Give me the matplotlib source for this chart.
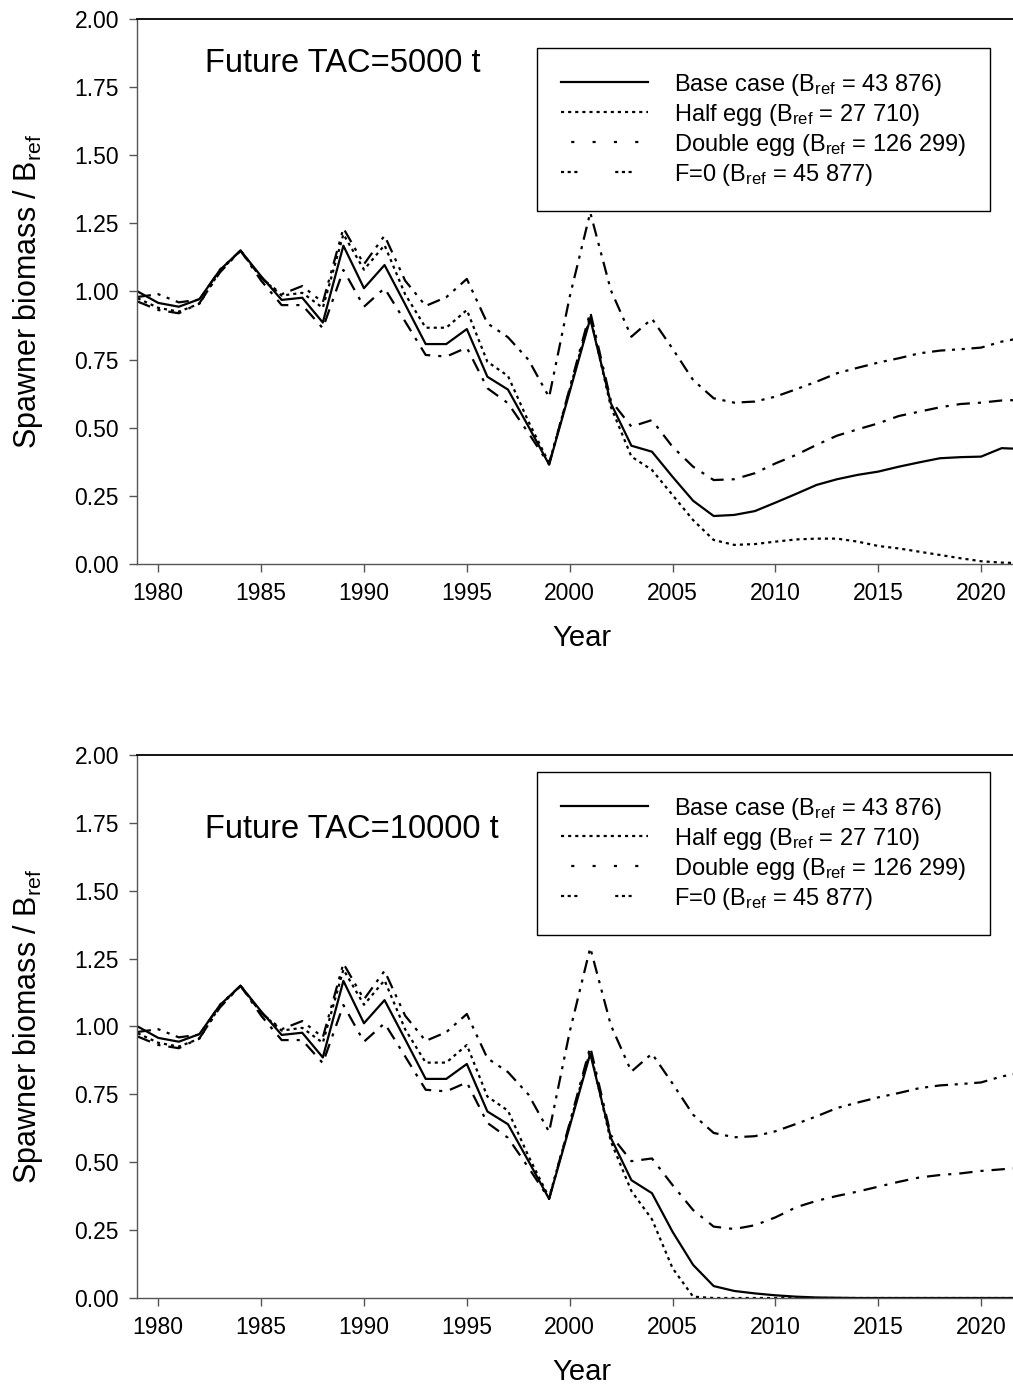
import numpy as np
import matplotlib
matplotlib.use('Agg')
import matplotlib.pyplot as plt
from matplotlib.lines import Line2D

plt.rcParams['font.family'] = ['Liberation Sans', 'DejaVu Sans']
plt.rcParams['mathtext.fontset'] = 'custom'
plt.rcParams['mathtext.rm'] = 'Liberation Sans'
plt.rcParams['mathtext.it'] = 'Liberation Sans:italic'

years = np.arange(1979, 2023)

# spawner biomass relative to B_ref, future TAC = 5000 t
base_5000 = [1.000, 0.958, 0.944, 0.972, 1.079, 1.150, 1.056, 0.969, 0.977, 0.886,
             1.168, 1.012, 1.097, 0.953, 0.807, 0.807, 0.862, 0.687, 0.640, 0.504,
             0.365, 0.632, 0.900, 0.590, 0.434, 0.412, 0.320, 0.232, 0.176, 0.180,
             0.194, 0.225, 0.257, 0.290, 0.311, 0.327, 0.339, 0.357, 0.373, 0.388,
             0.392, 0.394, 0.425, 0.422]
half_5000 = [0.975, 0.940, 0.926, 0.955, 1.075, 1.150, 1.050, 0.985, 0.995, 0.940,
             1.210, 1.080, 1.170, 0.990, 0.867, 0.867, 0.932, 0.742, 0.690, 0.522,
             0.370, 0.640, 0.910, 0.577, 0.394, 0.345, 0.253, 0.161, 0.088, 0.070,
             0.073, 0.082, 0.090, 0.093, 0.093, 0.082, 0.066, 0.057, 0.045, 0.033,
             0.021, 0.010, 0.005, 0.003]
double_5000 = [0.963, 0.932, 0.920, 0.957, 1.070, 1.150, 1.040, 0.950, 0.950, 0.865,
               1.079, 0.944, 1.012, 0.890, 0.767, 0.761, 0.794, 0.645, 0.590, 0.480,
               0.365, 0.645, 0.925, 0.600, 0.504, 0.528, 0.430, 0.357, 0.308, 0.311,
               0.333, 0.369, 0.400, 0.437, 0.471, 0.494, 0.516, 0.543, 0.559, 0.575,
               0.587, 0.592, 0.600, 0.602]

# future TAC = 10000 t
base_10000 = [1.000, 0.958, 0.944, 0.972, 1.079, 1.150, 1.056, 0.969, 0.977, 0.886,
              1.168, 1.012, 1.097, 0.953, 0.807, 0.807, 0.862, 0.687, 0.640, 0.504,
              0.365, 0.632, 0.900, 0.590, 0.434, 0.386, 0.244, 0.122, 0.044, 0.026,
              0.017, 0.010, 0.005, 0.002, 0.001, 0.000, 0.000, 0.000, 0.000, 0.000,
              0.000, 0.000, 0.000, 0.000]
half_10000 = [0.975, 0.940, 0.926, 0.955, 1.075, 1.150, 1.050, 0.985, 0.995, 0.940,
              1.210, 1.080, 1.170, 0.990, 0.867, 0.867, 0.932, 0.742, 0.690, 0.522,
              0.370, 0.640, 0.910, 0.577, 0.394, 0.290, 0.110, 0.005, 0.000, 0.000,
              0.000, 0.000, 0.000, 0.000, 0.000, 0.000, 0.000, 0.000, 0.000, 0.000,
              0.000, 0.000, 0.000, 0.000]
double_10000 = [0.963, 0.932, 0.920, 0.957, 1.070, 1.150, 1.040, 0.950, 0.950, 0.865,
                1.079, 0.944, 1.012, 0.890, 0.767, 0.761, 0.794, 0.645, 0.590, 0.480,
                0.365, 0.645, 0.925, 0.600, 0.504, 0.514, 0.416, 0.324, 0.263, 0.254,
                0.268, 0.297, 0.334, 0.358, 0.376, 0.392, 0.410, 0.428, 0.444, 0.453,
                0.459, 0.468, 0.474, 0.480]

# no fishing: same in both panels
f0 = [0.980, 0.990, 0.960, 0.970, 1.080, 1.150, 1.050, 0.990, 1.020, 0.960,
      1.232, 1.100, 1.205, 1.040, 0.947, 0.979, 1.046, 0.883, 0.832, 0.749,
      0.612, 0.980, 1.290, 1.005, 0.834, 0.900, 0.790, 0.675, 0.608, 0.592,
      0.596, 0.614, 0.641, 0.669, 0.700, 0.720, 0.739, 0.755, 0.773, 0.783,
      0.788, 0.794, 0.816, 0.830]

labels = ['Base case (B$_{\\mathrm{ref}}$ = 43 876)',
          'Half egg (B$_{\\mathrm{ref}}$ = 27 710)',
          'Double egg (B$_{\\mathrm{ref}}$ = 126 299)',
          'F=0 (B$_{\\mathrm{ref}}$ = 45 877)']

LW = 1.6
line_styles = ['-', (0, (1.4, 1.8)), (0, (6, 3.6, 1.4, 3.6)), (0, (6, 3, 1.4, 3, 1.4, 3))]
key_styles = ['-', (0, (1.4, 1.8)), (5, (1.4, 8.2)), (0, (1.4, 1.6, 1.4, 1.6, 1.4, 17))]
GREY = '#555555'


def draw_panel(ax, series, title, title_y, legend_y):
    for vals, ls in zip(series, line_styles):
        ax.plot(years, vals, color='k', lw=LW, ls=ls)

    ax.set_xlim(1978.965, 2021.55)
    ax.set_ylim(0, 2)
    ax.set_xticks(np.arange(1980, 2021, 5))
    ax.set_yticks(np.arange(0, 2.01, 0.25))
    ax.yaxis.set_major_formatter(plt.FormatStrFormatter('%.2f'))
    ax.tick_params(direction='out', length=6, width=1, color=GREY,
                   labelsize=16.5, pad=7)

    ax.spines['right'].set_visible(False)
    for s in ('left', 'bottom'):
        ax.spines[s].set_color(GREY)
        ax.spines[s].set_linewidth(1)
    ax.spines['top'].set_color('k')
    ax.spines['top'].set_linewidth(1.3)

    ax.set_xlabel('Year', fontsize=21)
    ax.xaxis.set_label_coords(0.508, -0.11)
    ax.set_ylabel('Spawner biomass / B$_{\\mathrm{ref}}$', fontsize=22)
    ax.yaxis.set_label_coords(-0.105, 0.5)

    ax.text(0.0776, title_y, title, transform=ax.transAxes,
            ha='left', va='center', fontsize=23.5)

    keys = [Line2D([], [], color='k', lw=LW, ls=ls) for ls in key_styles]
    ax.legend(keys, labels, loc='upper left', bbox_to_anchor=(0.4566, legend_y),
              borderaxespad=0, fancybox=False, framealpha=1, edgecolor='k',
              fontsize=17, handlelength=3.7, handletextpad=1.1,
              labelspacing=0.17, borderpad=1.0)


fig = plt.figure(figsize=(10.13, 13.85), dpi=100)
ax_top = fig.add_axes([0.1352, 0.5928, 0.8648, 0.3935])
ax_bot = fig.add_axes([0.1352, 0.0628, 0.8648, 0.3921])

draw_panel(ax_top, [base_5000, half_5000, double_5000, f0],
           'Future TAC=5000 t', 0.918, 0.9468)
draw_panel(ax_bot, [base_10000, half_10000, double_10000, f0],
           'Future TAC=10000 t', 0.862, 0.9687)

fig.savefig('out.png', dpi=100)
